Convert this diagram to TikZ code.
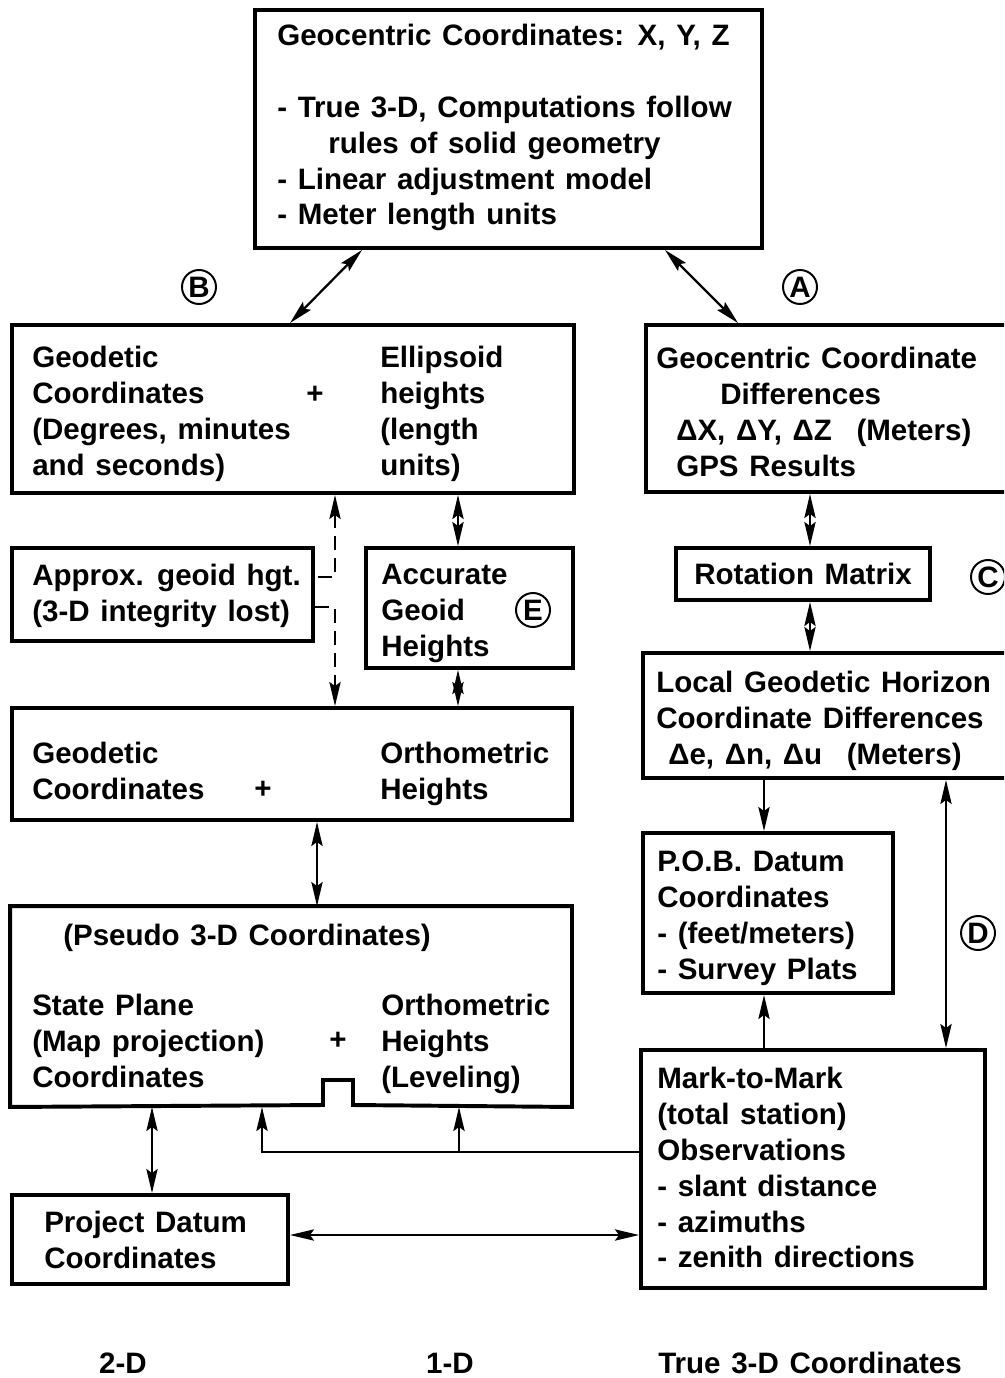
\documentclass[tikz,border=0pt]{standalone}
\usepackage{fontspec}
\setmainfont{Liberation Sans}[WordSpace=1.3]
\usetikzlibrary{arrows.meta}
\newcommand{\unitpx}{0.025cm}

\begin{document}
\begin{tikzpicture}[x=\unitpx, y=-\unitpx, font=\bfseries\fontsize{21}{25.5}\selectfont]
                \useasboundingbox (0,0) rectangle (1004,1378);
                \clip (0,0) rectangle (1004,1378);

                % boxes
                \begin{scope}[every node/.style={rectangle,draw,line width=2.8pt,inner sep=0pt}]
                    \node[minimum width=507*\unitpx, minimum height=238*\unitpx] (geo) at (508.5,129) {};
                    \node[minimum width=562*\unitpx, minimum height=168*\unitpx] (gd) at (293,409) {};
                    \node[minimum width=369*\unitpx, minimum height=167*\unitpx] (gcd) at (830.5,408.5) {};
                    \node[minimum width=301*\unitpx, minimum height=93*\unitpx] (apx) at (162.5,594.5) {};
                    \node[minimum width=207*\unitpx, minimum height=120*\unitpx] (acc) at (469.5,608) {};
                    \node[minimum width=254*\unitpx, minimum height=52*\unitpx] (rot) at (803,574) {Rotation Matrix};
                    \node[minimum width=372*\unitpx, minimum height=125*\unitpx] (lgh) at (829,715.5) {};
                    \node[minimum width=560*\unitpx, minimum height=112*\unitpx] (go) at (292,764) {};
                    \node[minimum width=250*\unitpx, minimum height=160*\unitpx] (pob) at (768,913) {};
                    \node[draw=none, minimum width=558*\unitpx, minimum height=197*\unitpx] (ps) at (291,1006.5) {};
                    \node[minimum width=344*\unitpx, minimum height=238*\unitpx] (mm) at (813,1169) {};
                    \node[minimum width=276*\unitpx, minimum height=89*\unitpx] (pd) at (150,1239.5) {};
                \end{scope}

                % pseudo 3-D box with its notch
                \draw[line width=2.8pt] (ps.south east) -- (ps.north east) -- (ps.north west) -- (ps.south west)
                    -- (323,1105) -- (323,1080) -- (353,1080) -- (353,1105) -- cycle;

                % box texts
                \begin{scope}[every node/.style={anchor=north west,align=left,inner sep=0pt}]
                    \node (geotxt) at (277,24) {Geocentric Coordinates: X, Y, Z\\[25.5pt]
                        - True 3-D, Computations follow\\
                        \hspace*{1.275cm}rules of solid geometry\\
                        - Linear adjustment model\\
                        - Meter length units};
                    \node (gdleft) at (32,346) {Geodetic\\Coordinates\\(Degrees, minutes\\and seconds)};
                    \node (gdright) at (380,346) {Ellipsoid\\heights\\(length\\units)};
                    \node[anchor=center] (gdplus) at (315,395) {+};
                    \node (gcdtxt) at (656,347) {Geocentric Coordinate\\
                        \hspace*{1.6cm}Differences\\
                        \hspace*{0.5cm}ΔX, ΔY, ΔZ\hspace{0.35cm} (Meters)\\
                        \hspace*{0.5cm}GPS Results};
                    \node (apxtxt) at (32,564) {Approx. geoid hgt.\\(3-D integrity lost)};
                    \node (acctxt) at (381,564) {Accurate\\Geoid\\Heights};
                    \node (lghtxt) at (656,671) {Local Geodetic Horizon\\
                        Coordinate Differences\\
                        \hspace*{0.3cm}Δe, Δn, Δu\hspace{0.35cm} (Meters)};
                    \node (goleft) at (32,742) {Geodetic\\Coordinates};
                    \node (goright) at (380,742) {Orthometric\\Heights};
                    \node[anchor=center] (goplus) at (263,790) {+};
                    \node (pobtxt) at (657,851) {P.O.B. Datum\\Coordinates\\- (feet/meters)\\- Survey Plats};
                    \node (pstitle) at (63,924) {(Pseudo 3-D Coordinates)};
                    \node (psleft) at (32,994) {State Plane\\(Map projection)\\Coordinates};
                    \node (psright) at (381,994) {Orthometric\\Heights\\(Leveling)};
                    \node[anchor=center] (psplus) at (338,1041) {+};
                    \node (mmtxt) at (657,1067) {Mark-to-Mark\\(total station)\\Observations\\- slant distance\\- azimuths\\- zenith directions};
                    \node (pdtxt) at (44,1211) {Project Datum\\Coordinates};
                    \node[anchor=center] (twod) at (123,1363) {2-D};
                    \node[anchor=center] (oned) at (450,1363) {1-D};
                    \node[anchor=west] (threed) at (658,1363) {True 3-D Coordinates};
                \end{scope}

                % circled letters
                \begin{scope}[every node/.style={circle,draw,line width=1.4pt,minimum size=34*\unitpx,inner sep=0pt}]
                    \node (cA) at (800,287) {A};
                    \node (cB) at (199,287) {B};
                    \node (cC) at (988,577) {C};
                    \node (cD) at (978,933) {D};
                    \node (cE) at (533,610) {E};
                \end{scope}

                % connectors
                \begin{scope}[>={Stealth[length=0.6cm,width=0.28cm,inset=0.1cm]}, line width=1.6pt,
                    every edge/.style={draw=black,line width=1.6pt}]
                    \path [<->] (geo.south -| 362,0) edge (gd.north -| 290,0);
                    \path [<->] (geo.south -| 665,0) edge (gcd.north -| 738,0);
                    \path [<->] (gd.south -| 458,0) edge (acc.north -| 458,0);
                    \path [<->] (acc.south -| 458,0) edge (go.north -| 458,0);
                    \path [<->] (gcd.south -| 810,0) edge (rot.north -| 810,0);
                    \path [<->] (rot.south -| 810,0) edge (lgh.north -| 810,0);
                    \path [->] (lgh.south -| 764,0) edge (pob.north -| 764,0);
                    \path [->] (mm.north -| 764,0) edge (pob.south -| 764,0);
                    \path [<->] (lgh.south -| 946,0) edge (mm.north -| 946,0);
                    \path [<->] (go.south -| 317,0) edge (ps.north -| 317,0);
                    \path [<->] (ps.south -| 152,0) edge (pd.north -| 152,0);
                    \path [<->] (pd.east |- 0,1235) edge (mm.west |- 0,1235);

                    \draw [<-, dash pattern=on 0.35cm off 0.2cm] (gd.south -| 335,0) |- (apx.east |- 0,577);
                    \draw [->, dash pattern=on 0.35cm off 0.2cm] (apx.east |- 0,607) -| (go.north -| 335,0);

                    \coordinate (split) at (459,1152);
                    \draw [->] (mm.west |- split) -| (ps.south -| 262,0);
                    \draw [->] (split) -- (split |- ps.south);
                \end{scope}
            \end{tikzpicture}
\end{document}
